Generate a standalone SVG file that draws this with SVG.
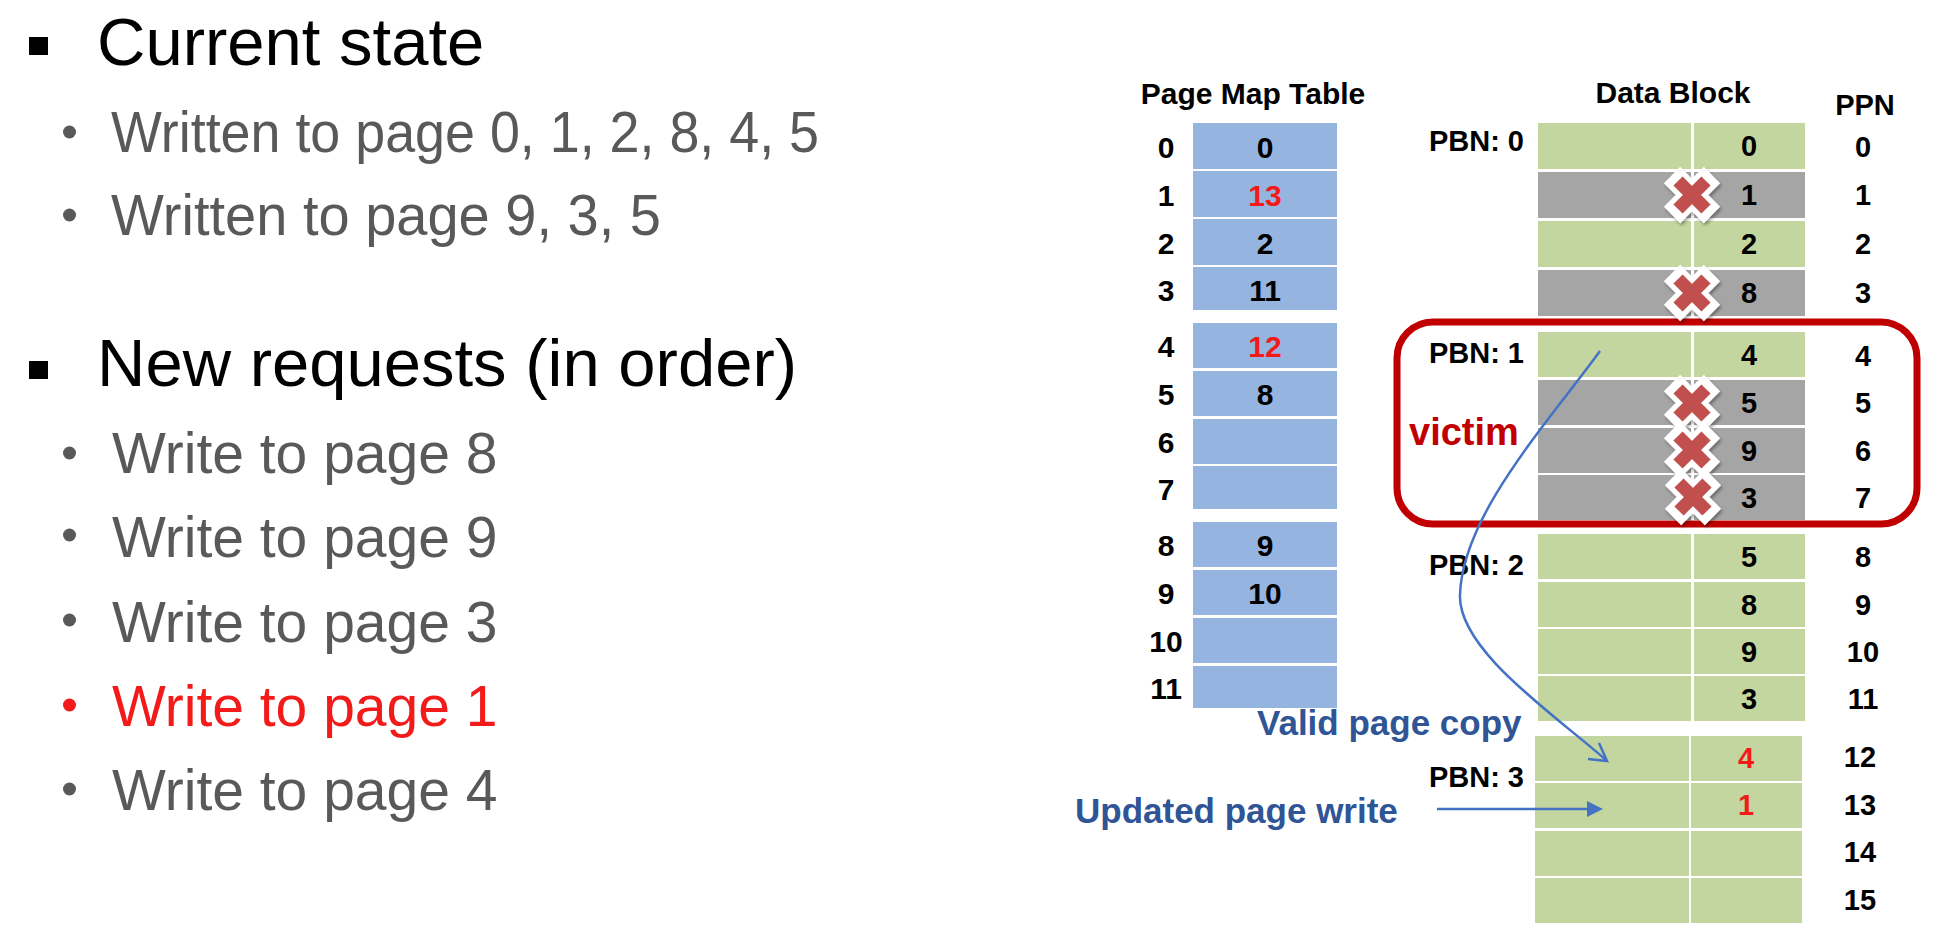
<svg xmlns="http://www.w3.org/2000/svg" width="1946" height="951" viewBox="0 0 1946 951">
<style>
  .h1 { font-family: "Liberation Sans", Arial, sans-serif; font-size: 67px; fill: #000; }
  .sub { font-family: "Liberation Sans", Arial, sans-serif; font-size: 57px; fill: #595959; }
  .b { font-family: "Liberation Sans", Arial, sans-serif; font-weight: bold; fill: #000; }
  .num { font-size: 30px; text-anchor: middle; }
  .dnum { font-size: 29px; text-anchor: middle; }
  .title { font-size: 30px; text-anchor: middle; }
  .pbn { font-size: 29px; text-anchor: end; }
  .pm { fill: #95B4E0; }
  .g { fill: #C4D6A0; }
  .y { fill: #A5A5A5; }
  .blue { font-family: "Liberation Sans", Arial, sans-serif; font-weight: bold; fill: #2F5597; }
  .conn { fill: none; stroke: #4472C4; stroke-width: 2.5; }
  .sub.red, .b.red { fill: #F31A1A; }
</style>
<defs>
  <filter id="sh" x="-30%" y="-30%" width="160%" height="160%">
    <feDropShadow dx="1.5" dy="2.5" stdDeviation="1.5" flood-color="#000" flood-opacity="0.35"/>
  </filter>
  <g id="xmark" filter="url(#sh)">
    <path d="M-20,-20 L20,20 M-20,20 L20,-20" stroke="#fff" stroke-width="23" fill="none"/>
    <path d="M-14,-14 L14,14 M-14,14 L14,-14" stroke="#C0504D" stroke-width="13" fill="none"/>
  </g>
</defs>
<rect width="1946" height="951" fill="#fff"/>

<!-- Left text -->
<g id="left-text">
  <rect x="29" y="37" width="19" height="18" fill="#000"/>
  <text class="h1" x="97" y="65">Current state</text>
  <circle cx="69.5" cy="132" r="6.5" fill="#595959"/>
  <text class="sub" x="111" y="152" textLength="708" lengthAdjust="spacingAndGlyphs">Written to page 0, 1, 2, 8, 4, 5</text>
  <circle cx="69.5" cy="215" r="6.5" fill="#595959"/>
  <text class="sub" x="111" y="235" textLength="550" lengthAdjust="spacingAndGlyphs">Written to page 9, 3, 5</text>

  <rect x="29" y="361" width="19" height="18" fill="#000"/>
  <text class="h1" x="97" y="386">New requests (in order)</text>
  <circle cx="69.5" cy="453" r="6.5" fill="#595959"/>
  <text class="sub" x="112" y="473">Write to page 8</text>
  <circle cx="69.5" cy="535" r="6.5" fill="#595959"/>
  <text class="sub" x="112" y="557">Write to page 9</text>
  <circle cx="69.5" cy="620" r="6.5" fill="#595959"/>
  <text class="sub" x="112" y="642">Write to page 3</text>
  <circle cx="69.5" cy="705" r="6.5" fill="#F31A1A"/>
  <text class="sub red" x="112" y="726">Write to page 1</text>
  <circle cx="69.5" cy="789" r="6.5" fill="#595959"/>
  <text class="sub" x="112" y="810">Write to page 4</text>
</g>

<!-- Page Map Table -->
<g id="page-map-table">
  <text class="b title" x="1253" y="104">Page Map Table</text>
  <rect class="pm" x="1193" y="123" width="144" height="46"/>
  <rect class="pm" x="1193" y="171" width="144" height="46"/>
  <rect class="pm" x="1193" y="219" width="144" height="46"/>
  <rect class="pm" x="1193" y="267" width="144" height="43"/>
  <rect class="pm" x="1193" y="323" width="144" height="45"/>
  <rect class="pm" x="1193" y="371" width="144" height="45"/>
  <rect class="pm" x="1193" y="419" width="144" height="45"/>
  <rect class="pm" x="1193" y="466" width="144" height="43"/>
  <rect class="pm" x="1193" y="522" width="144" height="45"/>
  <rect class="pm" x="1193" y="570" width="144" height="45"/>
  <rect class="pm" x="1193" y="618" width="144" height="45"/>
  <rect class="pm" x="1193" y="666" width="144" height="42"/>

  <text class="b num" x="1166" y="158">0</text>
  <text class="b num" x="1166" y="206">1</text>
  <text class="b num" x="1166" y="254">2</text>
  <text class="b num" x="1166" y="301">3</text>
  <text class="b num" x="1166" y="357">4</text>
  <text class="b num" x="1166" y="405">5</text>
  <text class="b num" x="1166" y="453">6</text>
  <text class="b num" x="1166" y="500">7</text>
  <text class="b num" x="1166" y="556">8</text>
  <text class="b num" x="1166" y="604">9</text>
  <text class="b num" x="1166" y="652">10</text>
  <text class="b num" x="1166" y="699">11</text>

  <text class="b num" x="1265" y="158">0</text>
  <text class="b num red" x="1265" y="206">13</text>
  <text class="b num" x="1265" y="254">2</text>
  <text class="b num" x="1265" y="301">11</text>
  <text class="b num red" x="1265" y="357">12</text>
  <text class="b num" x="1265" y="405">8</text>
  <text class="b num" x="1265" y="556">9</text>
  <text class="b num" x="1265" y="604">10</text>
</g>

<!-- Data Block -->
<g id="data-block">
  <text class="b title" x="1673" y="103">Data Block</text>
  <text class="b" x="1865" y="115" font-size="29" text-anchor="middle">PPN</text>

  <text class="b pbn" x="1524" y="151">PBN: 0</text>
  <text class="b pbn" x="1524" y="363">PBN: 1</text>
  <text class="b pbn" x="1524" y="575">PBN: 2</text>
  <text class="b pbn" x="1524" y="787">PBN: 3</text>

  <!-- PBN 0 -->
  <rect class="g" x="1538" y="123" width="153" height="46"/><rect class="g" x="1694" y="123" width="111" height="46"/>
  <rect class="y" x="1538" y="172" width="153" height="46"/><rect class="y" x="1694" y="172" width="111" height="46"/>
  <rect class="g" x="1538" y="221" width="153" height="46"/><rect class="g" x="1694" y="221" width="111" height="46"/>
  <rect class="y" x="1538" y="270" width="153" height="46"/><rect class="y" x="1694" y="270" width="111" height="46"/>
  <!-- PBN 1 -->
  <rect class="g" x="1538" y="332" width="153" height="45"/><rect class="g" x="1694" y="332" width="111" height="45"/>
  <rect class="y" x="1538" y="380" width="153" height="45"/><rect class="y" x="1694" y="380" width="111" height="45"/>
  <rect class="y" x="1538" y="428" width="153" height="45"/><rect class="y" x="1694" y="428" width="111" height="45"/>
  <rect class="y" x="1538" y="475" width="153" height="45"/><rect class="y" x="1694" y="475" width="111" height="45"/>
  <!-- PBN 2 -->
  <rect class="g" x="1538" y="534" width="153" height="45"/><rect class="g" x="1694" y="534" width="111" height="45"/>
  <rect class="g" x="1538" y="582" width="153" height="45"/><rect class="g" x="1694" y="582" width="111" height="45"/>
  <rect class="g" x="1538" y="629" width="153" height="45"/><rect class="g" x="1694" y="629" width="111" height="45"/>
  <rect class="g" x="1538" y="676" width="153" height="45"/><rect class="g" x="1694" y="676" width="111" height="45"/>
  <!-- PBN 3 -->
  <rect class="g" x="1535" y="736" width="154" height="45"/><rect class="g" x="1691" y="736" width="111" height="45"/>
  <rect class="g" x="1535" y="783" width="154" height="45"/><rect class="g" x="1691" y="783" width="111" height="45"/>
  <rect class="g" x="1535" y="831" width="154" height="45"/><rect class="g" x="1691" y="831" width="111" height="45"/>
  <rect class="g" x="1535" y="878" width="154" height="45"/><rect class="g" x="1691" y="878" width="111" height="45"/>

  <text class="b dnum" x="1749" y="156">0</text>
  <text class="b dnum" x="1749" y="205">1</text>
  <text class="b dnum" x="1749" y="254">2</text>
  <text class="b dnum" x="1749" y="303">8</text>
  <text class="b dnum" x="1749" y="365">4</text>
  <text class="b dnum" x="1749" y="413">5</text>
  <text class="b dnum" x="1749" y="461">9</text>
  <text class="b dnum" x="1749" y="508">3</text>
  <text class="b dnum" x="1749" y="567">5</text>
  <text class="b dnum" x="1749" y="615">8</text>
  <text class="b dnum" x="1749" y="662">9</text>
  <text class="b dnum" x="1749" y="709">3</text>
  <text class="b dnum red" x="1746" y="768">4</text>
  <text class="b dnum red" x="1746" y="815">1</text>

  <text class="b dnum" x="1863" y="157">0</text>
  <text class="b dnum" x="1863" y="205">1</text>
  <text class="b dnum" x="1863" y="254">2</text>
  <text class="b dnum" x="1863" y="303">3</text>
  <text class="b dnum" x="1863" y="366">4</text>
  <text class="b dnum" x="1863" y="413">5</text>
  <text class="b dnum" x="1863" y="461">6</text>
  <text class="b dnum" x="1863" y="508">7</text>
  <text class="b dnum" x="1863" y="567">8</text>
  <text class="b dnum" x="1863" y="615">9</text>
  <text class="b dnum" x="1863" y="662">10</text>
  <text class="b dnum" x="1863" y="709">11</text>
  <text class="b dnum" x="1860" y="767">12</text>
  <text class="b dnum" x="1860" y="815">13</text>
  <text class="b dnum" x="1860" y="862">14</text>
  <text class="b dnum" x="1860" y="910">15</text>
</g>

<!-- Victim box -->
<g id="victim">
  <rect x="1397" y="322" width="520" height="202" rx="36" ry="36" fill="none" stroke="#C00000" stroke-width="7"/>
  <text class="b" x="1409" y="445" font-size="38" style="fill:#C00000">victim</text>
</g>

<!-- Invalid marks -->
<g id="invalid-marks">
  <use href="#xmark" x="1692" y="195"/>
  <use href="#xmark" x="1692" y="293"/>
  <use href="#xmark" x="1692" y="403"/>
  <use href="#xmark" x="1692" y="450"/>
  <use href="#xmark" x="1693" y="497"/>
</g>

<!-- Connectors -->
<g id="connectors">
  <path class="conn" d="M1600,351 C1550,420 1462,515 1460,595 C1458,650 1555,715 1606,760"/>
  <polyline class="conn" points="1588,759 1607,761 1599,743"/>
  <line class="conn" x1="1437" y1="809" x2="1589" y2="809"/>
  <polygon points="1587,801 1603,809 1587,817" fill="#4472C4"/>
</g>

<g id="labels">
  <text class="blue" x="1257" y="735" font-size="35">Valid page copy</text>
  <text class="blue" x="1075" y="823" font-size="35">Updated page write</text>
</g>
</svg>
